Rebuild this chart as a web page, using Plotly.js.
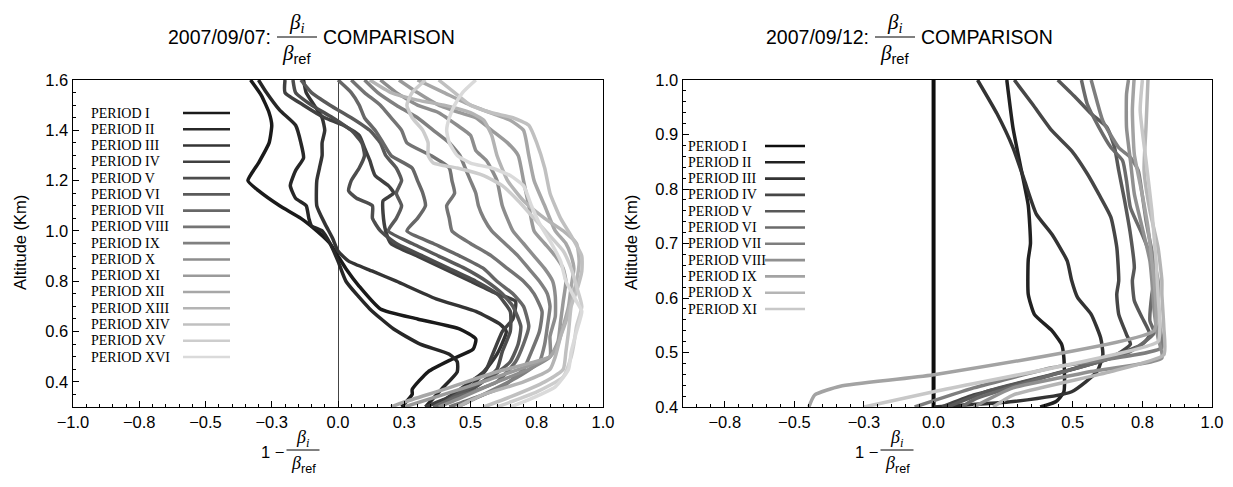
<!DOCTYPE html>
<html><head><meta charset="utf-8">
<script src="https://cdn.plot.ly/plotly-3.0.1.min.js"></script>
<style>html,body{margin:0;padding:0;background:#fff}#chart{width:1233px;height:487px}</style>
</head><body><div id="chart"></div>
<script>
// ---------------- DATA ----------------
const leftNames = ["PERIOD I","PERIOD II","PERIOD III","PERIOD IV","PERIOD V","PERIOD VI","PERIOD VII","PERIOD VIII","PERIOD IX","PERIOD X","PERIOD XI","PERIOD XII","PERIOD XIII","PERIOD XIV","PERIOD XV","PERIOD XVI"];
const rightNames = leftNames.slice(0, 11);

const leftX = [
 [-0.33,-0.29,-0.26,-0.25,-0.26,-0.30,-0.34,-0.30,-0.22,-0.14,-0.08,-0.03,0.00,0.03,0.08,0.16,0.30,0.46,0.52,0.51,0.43,0.34,0.28,0.28,0.24],
 [-0.30,-0.27,-0.22,-0.16,-0.14,-0.13,-0.16,-0.18,-0.16,-0.12,-0.11,-0.10,-0.06,-0.03,0.00,0.03,0.12,0.21,0.31,0.42,0.45,0.45,0.39,0.33],
 [-0.13,-0.12,-0.09,-0.06,-0.05,-0.06,-0.06,-0.07,-0.08,-0.08,-0.05,-0.02,0.00,0.04,0.13,0.22,0.37,0.52,0.61,0.635,0.60,0.55,0.46,0.36],
 [-0.20,-0.20,-0.13,-0.05,0.02,0.08,0.10,0.12,0.14,0.19,0.21,0.17,0.17,0.18,0.20,0.30,0.40,0.50,0.60,0.67,0.66,0.62,0.58,0.56,0.50,0.40,0.33],
 [-0.17,-0.16,-0.10,-0.02,0.05,0.09,0.10,0.08,0.05,0.04,0.07,0.13,0.13,0.16,0.22,0.32,0.42,0.52,0.60,0.65,0.65,0.62,0.60,0.52,0.42,0.37],
 [-0.14,-0.10,-0.03,0.05,0.12,0.16,0.18,0.22,0.24,0.22,0.24,0.22,0.19,0.28,0.38,0.48,0.56,0.62,0.66,0.69,0.68,0.65,0.58,0.45,0.37],
 [0.00,0.05,0.08,0.10,0.14,0.17,0.20,0.28,0.30,0.32,0.33,0.30,0.26,0.36,0.46,0.55,0.60,0.66,0.70,0.72,0.70,0.67,0.60,0.45,0.36],
 [0.05,0.10,0.16,0.20,0.24,0.26,0.35,0.42,0.43,0.44,0.41,0.42,0.43,0.50,0.58,0.64,0.70,0.74,0.77,0.76,0.73,0.70,0.62,0.50,0.42],
 [0.10,0.15,0.22,0.30,0.36,0.42,0.46,0.48,0.50,0.52,0.53,0.55,0.58,0.63,0.68,0.72,0.76,0.79,0.80,0.79,0.78,0.76,0.68,0.55,0.45],
 [0.16,0.22,0.30,0.38,0.45,0.50,0.52,0.56,0.60,0.62,0.66,0.70,0.74,0.78,0.81,0.82,0.82,0.80,0.80,0.72,0.60,0.45,0.38],
 [0.23,0.30,0.38,0.46,0.52,0.58,0.64,0.68,0.70,0.72,0.74,0.78,0.82,0.85,0.86,0.85,0.84,0.83,0.80,0.60,0.40,0.25],
 [0.30,0.40,0.50,0.60,0.65,0.70,0.72,0.74,0.78,0.82,0.86,0.88,0.89,0.88,0.87,0.85,0.83,0.80,0.60,0.40,0.25,0.20],
 [0.12,0.20,0.30,0.40,0.50,0.55,0.58,0.60,0.64,0.70,0.78,0.85,0.90,0.91,0.90,0.88,0.86,0.84,0.82,0.80,0.70,0.55,0.45],
 [0.38,0.44,0.50,0.58,0.66,0.72,0.75,0.78,0.80,0.84,0.88,0.92,0.92,0.90,0.88,0.87,0.86,0.85,0.78,0.65,0.55],
 [0.33,0.28,0.26,0.28,0.32,0.34,0.34,0.36,0.45,0.55,0.62,0.68,0.74,0.80,0.85,0.88,0.90,0.92,0.90,0.89,0.88,0.85,0.75,0.60],
 [0.52,0.47,0.44,0.42,0.41,0.42,0.45,0.50,0.58,0.65,0.70,0.73,0.76,0.80,0.84,0.86,0.90,0.92,0.90,0.88,0.87,0.82,0.70,0.65]
];
const leftY = [
 [1.60,1.54,1.47,1.42,1.35,1.27,1.20,1.16,1.10,1.05,1.00,0.95,0.90,0.85,0.78,0.69,0.65,0.61,0.57,0.53,0.49,0.44,0.37,0.35,0.30],
 [1.60,1.55,1.48,1.42,1.35,1.29,1.24,1.18,1.13,1.10,1.05,1.02,1.00,0.95,0.88,0.80,0.69,0.61,0.55,0.51,0.48,0.44,0.37,0.30],
 [1.60,1.55,1.50,1.45,1.40,1.35,1.30,1.25,1.20,1.10,1.03,0.97,0.92,0.88,0.84,0.80,0.73,0.68,0.63,0.60,0.51,0.44,0.37,0.30],
 [1.60,1.55,1.50,1.45,1.42,1.38,1.33,1.28,1.22,1.18,1.15,1.12,1.07,1.00,0.95,0.90,0.85,0.80,0.75,0.72,0.65,0.60,0.50,0.45,0.38,0.33,0.30],
 [1.60,1.55,1.50,1.45,1.40,1.35,1.30,1.25,1.20,1.16,1.13,1.10,1.05,1.00,0.95,0.90,0.85,0.80,0.75,0.68,0.60,0.52,0.45,0.38,0.32,0.30],
 [1.60,1.55,1.50,1.45,1.40,1.35,1.30,1.25,1.20,1.15,1.10,1.05,1.00,0.95,0.90,0.85,0.80,0.75,0.70,0.62,0.55,0.48,0.42,0.35,0.30],
 [1.60,1.55,1.50,1.45,1.40,1.35,1.30,1.25,1.20,1.15,1.10,1.05,1.00,0.95,0.90,0.85,0.80,0.75,0.70,0.62,0.55,0.48,0.40,0.34,0.30],
 [1.60,1.55,1.50,1.45,1.40,1.35,1.30,1.25,1.20,1.15,1.10,1.05,1.00,0.95,0.90,0.85,0.80,0.75,0.68,0.60,0.52,0.45,0.38,0.33,0.30],
 [1.60,1.55,1.50,1.45,1.40,1.35,1.30,1.25,1.20,1.15,1.10,1.05,1.00,0.95,0.90,0.85,0.80,0.75,0.70,0.62,0.55,0.48,0.42,0.35,0.30],
 [1.60,1.55,1.50,1.47,1.42,1.38,1.32,1.28,1.20,1.10,1.00,0.95,0.90,0.85,0.80,0.74,0.66,0.58,0.50,0.45,0.40,0.33,0.30],
 [1.60,1.55,1.50,1.47,1.45,1.40,1.35,1.30,1.20,1.10,1.00,0.95,0.90,0.85,0.80,0.72,0.64,0.56,0.50,0.42,0.35,0.30],
 [1.60,1.55,1.50,1.46,1.44,1.40,1.30,1.20,1.10,1.00,0.95,0.90,0.85,0.78,0.70,0.62,0.55,0.50,0.44,0.37,0.32,0.30],
 [1.60,1.55,1.52,1.50,1.47,1.44,1.38,1.30,1.20,1.12,1.05,1.00,0.95,0.88,0.80,0.72,0.64,0.58,0.50,0.45,0.40,0.35,0.30],
 [1.60,1.55,1.50,1.47,1.45,1.42,1.35,1.25,1.15,1.05,0.98,0.90,0.84,0.76,0.70,0.60,0.52,0.45,0.40,0.34,0.30],
 [1.60,1.55,1.50,1.45,1.40,1.35,1.30,1.27,1.25,1.22,1.18,1.12,1.05,0.98,0.92,0.85,0.78,0.70,0.62,0.55,0.50,0.42,0.36,0.30],
 [1.60,1.55,1.50,1.45,1.40,1.35,1.30,1.27,1.25,1.22,1.18,1.10,1.03,0.96,0.88,0.80,0.72,0.68,0.60,0.52,0.45,0.38,0.32,0.30]
];

const rightX = [
 [0.0,0.0],
 [0.263,0.285,0.313,0.340,0.348,0.340,0.340,0.362,0.425,0.460,0.468,0.468,0.440,0.383],
 [0.158,0.228,0.285,0.327,0.369,0.425,0.480,0.496,0.517,0.566,0.600,0.608,0.587,0.496,0.285,0.000],
 [0.290,0.355,0.425,0.496,0.552,0.594,0.637,0.658,0.665,0.658,0.665,0.693,0.707,0.637,0.425,0.144,0.030],
 [0.446,0.510,0.566,0.623,0.650,0.665,0.686,0.707,0.721,0.714,0.721,0.749,0.777,0.749,0.500,0.200,0.050],
 [0.531,0.552,0.594,0.637,0.679,0.693,0.707,0.749,0.777,0.792,0.784,0.777,0.792,0.700,0.400,0.150,0.100],
 [0.566,0.580,0.608,0.665,0.707,0.735,0.749,0.763,0.777,0.806,0.806,0.813,0.820,0.425,0.144,-0.068],
 [0.700,0.693,0.693,0.707,0.721,0.749,0.777,0.784,0.792,0.806,0.820,0.566,0.285,0.144],
 [0.720,0.714,0.721,0.749,0.770,0.784,0.792,0.799,0.792,0.000,-0.335,-0.427,-0.448],
 [0.770,0.763,0.756,0.777,0.806,0.820,0.820,0.827,0.827,0.637,0.285,0.214],
 [0.750,0.742,0.763,0.784,0.799,0.806,0.813,0.806,0.000,-0.250]
];
const rightY = [
 [1.0,0.4],
 [1.000,0.913,0.840,0.770,0.700,0.670,0.607,0.570,0.540,0.515,0.490,0.428,0.410,0.400],
 [1.000,0.938,0.876,0.815,0.754,0.717,0.668,0.632,0.601,0.570,0.527,0.496,0.465,0.428,0.410,0.400],
 [1.000,0.956,0.907,0.870,0.828,0.790,0.748,0.693,0.632,0.607,0.570,0.533,0.515,0.490,0.459,0.422,0.400],
 [1.000,0.968,0.938,0.913,0.876,0.834,0.779,0.717,0.656,0.632,0.595,0.564,0.533,0.515,0.470,0.430,0.400],
 [1.000,0.956,0.913,0.876,0.852,0.815,0.766,0.717,0.680,0.632,0.607,0.558,0.536,0.500,0.455,0.415,0.400],
 [1.000,0.974,0.925,0.876,0.858,0.834,0.791,0.742,0.705,0.632,0.607,0.546,0.509,0.472,0.435,0.400],
 [1.000,0.974,0.913,0.852,0.791,0.730,0.668,0.632,0.577,0.527,0.490,0.465,0.435,0.400],
 [1.000,0.944,0.864,0.791,0.730,0.668,0.632,0.577,0.540,0.459,0.438,0.422,0.400],
 [1.000,0.913,0.834,0.760,0.693,0.632,0.607,0.546,0.496,0.465,0.422,0.400],
 [1.000,0.944,0.852,0.760,0.668,0.607,0.546,0.520,0.428,0.400]
];

const xTickVals = [-1,-0.75,-0.5,-0.25,0,0.25,0.5,0.75,1];
const xTickText = ["\u22121.0","\u22120.8","\u22120.5","\u22120.3","0.0","0.3","0.5","0.8","1.0"];
const leftYTicks = [0.4,0.6,0.8,1.0,1.2,1.4,1.6];
const leftYText = ["0.4","0.6","0.8","1.0","1.2","1.4","1.6"];
const rightYTicks = [0.4,0.5,0.6,0.7,0.8,0.9,1.0];
const rightYText = ["0.4","0.5","0.6","0.7","0.8","0.9","1.0"];

// ---------------- STYLE / LAYOUT ----------------
const W = 1233, H = 487;
const px = x => x / W, py = y => 1 - y / H;
function grays(n, a, b) {
  const out = [];
  for (let i = 0; i < n; i++) {
    const v = Math.round(a + (b - a) * i / (n - 1));
    out.push(`rgb(${v},${v},${v})`);
  }
  return out;
}
const leftColors = grays(16, 26, 218);
const rightColors = grays(11, 14, 200);

const SANS = "Liberation Sans, Arial, sans-serif";
const SERIF = "Liberation Serif, Times New Roman, serif";

const traces = [];
leftX.forEach((xs, i) => traces.push({
  type: 'scatter', mode: 'lines', x: xs, y: leftY[i], xaxis: 'x', yaxis: 'y',
  name: leftNames[i], showlegend: false, hoverinfo: 'skip',
  line: {color: leftColors[i], width: 3.5, shape: 'spline', smoothing: 0.5}
}));
rightX.forEach((xs, i) => traces.push({
  type: 'scatter', mode: 'lines', x: xs, y: rightY[i], xaxis: 'x2', yaxis: 'y2',
  name: rightNames[i], showlegend: false, hoverinfo: 'skip',
  line: {color: rightColors[i], width: i === 0 ? 4 : 3.5, shape: 'spline', smoothing: 0.5}
}));

function axisBase(extra) {
  return Object.assign({
    showgrid: false, showline: true, mirror: true, linecolor: '#000', linewidth: 1.4,
    ticks: 'inside', ticklen: 6, tickwidth: 1, tickcolor: '#000',
    tickfont: {family: SANS, size: 16.5, color: '#000'},
    zeroline: false, fixedrange: true
  }, extra);
}

const layout = {
  width: W, height: H, margin: {l: 0, r: 0, t: 0, b: 0},
  paper_bgcolor: '#fff', plot_bgcolor: '#fff', showlegend: false,
  xaxis: axisBase({domain: [px(73), px(603)], range: [-1, 1], anchor: 'y',
    tickmode: 'array', tickvals: xTickVals, ticktext: xTickText,
    zeroline: true, zerolinecolor: '#444', zerolinewidth: 1,
    minor: {ticks: 'inside', ticklen: 3, dtick: 0.05, tickcolor: '#000', showgrid: false}}),
  yaxis: axisBase({domain: [py(407), py(80)], range: [0.3, 1.6], anchor: 'x',
    tickmode: 'array', tickvals: leftYTicks, ticktext: leftYText,
    minor: {ticks: 'inside', ticklen: 3, dtick: 0.05, tick0: 0, tickcolor: '#000', showgrid: false}}),
  xaxis2: axisBase({domain: [px(683), px(1212)], range: [-0.9, 1], anchor: 'y2',
    tickmode: 'array', tickvals: xTickVals, ticktext: xTickText,
    zeroline: true, zerolinecolor: '#444', zerolinewidth: 1,
    minor: {ticks: 'inside', ticklen: 3, dtick: 0.05, tick0: 0, tickcolor: '#000', showgrid: false}}),
  yaxis2: axisBase({domain: [py(407), py(80)], range: [0.4, 1.0], anchor: 'x2',
    tickmode: 'array', tickvals: rightYTicks, ticktext: rightYText,
    minor: {ticks: 'inside', ticklen: 3, dtick: 0.02, tick0: 0, tickcolor: '#000', showgrid: false}}),
  annotations: [], shapes: []
};

function A(text, x, y, xanchor, font, extra) {
  layout.annotations.push(Object.assign({
    text, x: px(x), y: py(y), xref: 'paper', yref: 'paper', showarrow: false,
    xanchor: xanchor, yanchor: 'middle', font: font
  }, extra || {}));
}
function hline(x0, x1, y, color, width) {
  layout.shapes.push({type: 'line', xref: 'paper', yref: 'paper',
    x0: px(x0), x1: px(x1), y0: py(y), y1: py(y), line: {color, width}});
}
const BETA_I = '<i>\u03b2<sub>i</sub></i>';
const BETA_REF = '<i>\u03b2</i><sub><span style="font-family:Liberation Sans;font-style:normal">ref</span></sub>';
function frac(cx, cy, w, size) {
  A(BETA_I, cx, cy - size * 0.75, 'center', {family: SERIF, size: size + 2, color: '#000'});
  A(BETA_REF, cx, cy + size * 0.9, 'center', {family: SERIF, size: size + 2, color: '#000'});
  hline(cx - w / 2, cx + w / 2, cy, '#000', 1);
}

// titles
const TF = {family: SANS, size: 19.5, color: '#000'};
A('2007/09/07:', 273, 37, 'right', TF); frac(297, 37, 40, 19); A('COMPARISON', 321, 37, 'left', TF);
A('2007/09/12:', 871, 37, 'right', TF); frac(895, 37, 40, 19); A('COMPARISON', 919, 37, 'left', TF);

// x axis titles
const XF = {family: SANS, size: 16.5, color: '#000'};
A('1 \u2212', 286, 452, 'right', XF); frac(303, 450, 33, 16);
A('1 \u2212', 880, 452, 'right', XF); frac(897, 450, 33, 16);

// y axis titles
A('Altitude (Km)', 20, 243, 'center', {family: SANS, size: 16.5, color: '#000'}, {textangle: -90});
A('Altitude (Km)', 631, 243, 'center', {family: SANS, size: 16.5, color: '#000'}, {textangle: -90});

// legends
const LF = {family: SERIF, size: 14, color: '#000'};
leftNames.forEach((n, i) => {
  const y = 113 + i * 16.27;
  A(n, 89, y, 'left', LF);
  hline(183, 230, y, leftColors[i], 2.6);
});
rightNames.forEach((n, i) => {
  const y = 146 + i * 16.3;
  A(n, 686, y, 'left', LF);
  hline(765, 805, y, rightColors[i], 2.6);
});

Plotly.newPlot('chart', traces, layout, {displayModeBar: false, staticPlot: true});
</script>
</body></html>
